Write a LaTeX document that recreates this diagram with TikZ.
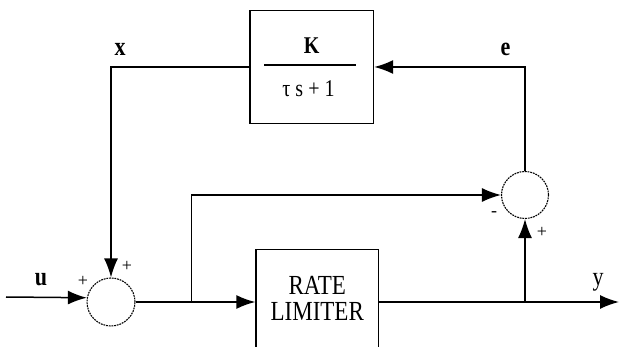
\documentclass[tikz,border=0pt]{standalone}
\usepackage{fontspec}
\setmainfont{Liberation Serif}
\usetikzlibrary{arrows.meta}
\newcommand{\tallt}[1]{\scalebox{1}[1.2]{#1}}
\begin{document}
\begin{tikzpicture}[x=1pt,y=-1pt,
  wire/.style={line width=1.5pt},
  arr/.style={wire,-{Latex[length=19pt,width=14pt]}},
  sumj/.style={circle,draw,line width=1.1pt,dash pattern=on 1.8pt off 0.9pt,minimum size=48pt,inner sep=0pt},
  blk/.style={draw,line width=1.4pt,inner sep=0pt},
  lbl/.style={font=\fontsize{22}{24}\selectfont\bfseries,inner sep=0pt,anchor=base},
  sgn/.style={font=\fontsize{18}{20}\selectfont,inner sep=0pt}]
\useasboundingbox (0,0) rectangle (619,347);
\clip (0,0) rectangle (619,347);
% blocks
\node[blk,minimum width=123.5pt,minimum height=113pt] (K) at (311.75,67) {};
\node[font=\fontsize{20}{22}\selectfont\bfseries,inner sep=0pt,anchor=base] (Kn) at (311.75,53.3) {\tallt{K}};
\draw[wire] (264,65) -- (356,65);
\node[font=\fontsize{20}{22}\selectfont,inner sep=0pt,anchor=base] (Kd) at (308.5,96.5) {\tallt{τ s + 1}};
\node[blk,minimum width=122.5pt,minimum height=105pt,font=\fontsize{23}{21}\selectfont] (R) at (317.25,302) {\tallt{\begin{tabular}{@{}c@{}}RATE\\LIMITER\end{tabular}}};
% summing junctions
\node[sumj] (S1) at (111,302) {};
\node[sumj,minimum size=47pt] (S2) at (525,195) {};
% free ends and branch points
\coordinate (uin) at (6,297);
\coordinate (br1) at (191.5,302);
\coordinate (br2) at (525,302);
\coordinate (yout) at (619,302);
% connectors
\draw[arr] (uin) -- (S1.170);
\draw[arr] (K.west) -| (S1.north);
\draw[arr] (S2.north) |- (K.east);
\draw[arr] (S1.east) -- (R.west);
\draw[arr] (br1) |- (S2.west);
\draw[arr] (R.east) -- (yout);
\draw[arr] (br2) -- (S2.south);
% labels
\node[lbl] (lx) at (120,56) {\tallt{x}};
\node[lbl] (le) at (505.5,56) {\tallt{e}};
\node[lbl] (lu) at (41,286) {\tallt{u}};
\node[lbl,font=\fontsize{22}{24}\selectfont] (ly) at (598,286) {\tallt{y}};
\node[sgn] (p1) at (83,281) {+};
\node[sgn] (p2) at (127,266.5) {+};
\node[sgn] (m3) at (494,214) {-};
\node[sgn] (p4) at (542,232) {+};
\end{tikzpicture}
\end{document}
